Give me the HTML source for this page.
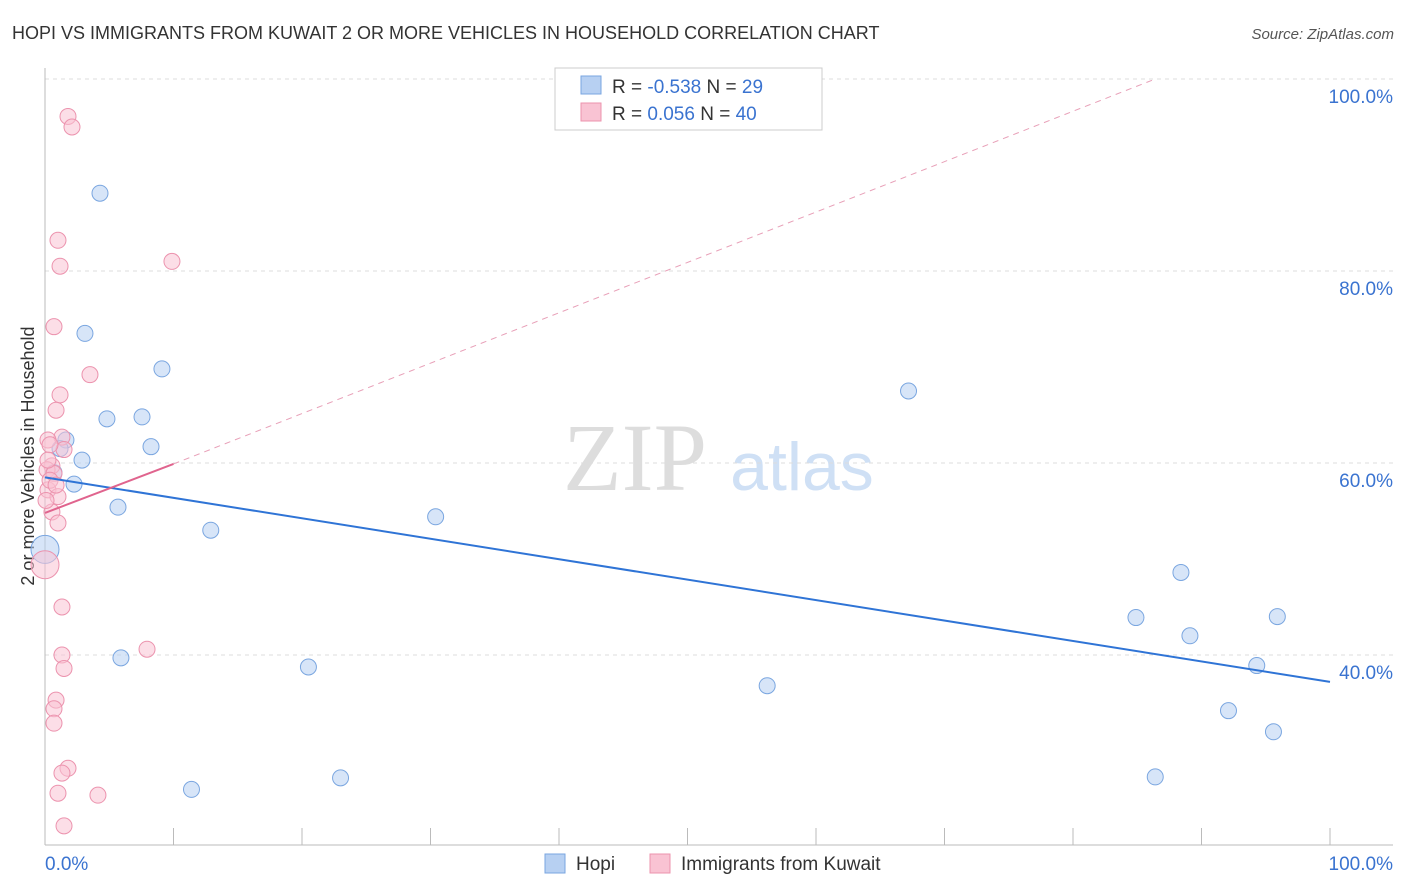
<!DOCTYPE html>
<html><head><meta charset="utf-8"><style>
body{margin:0;background:#fff;font-family:"Liberation Sans",sans-serif;}
#wrap{position:relative;width:1406px;height:892px;overflow:hidden}
</style></head><body>
<div id="wrap">
<svg id="svg" width="1406" height="892" xmlns="http://www.w3.org/2000/svg">
<text x="12" y="39" font-size="18" fill="#333">HOPI VS IMMIGRANTS FROM KUWAIT 2 OR MORE VEHICLES IN HOUSEHOLD CORRELATION CHART</text>
<text x="1394" y="39" font-size="15" fill="#555" text-anchor="end" font-style="italic">Source: ZipAtlas.com</text>
<text x="34" y="456" font-size="18" fill="#333" text-anchor="middle" transform="rotate(-90 34 456)">2 or more Vehicles in Household</text>
<text x="635" y="490" font-size="96" fill="#ddd" font-family="Liberation Serif,serif" text-anchor="middle">ZIP</text>
<text x="802" y="490" font-size="68" fill="#cfe0f5" text-anchor="middle">atlas</text>
<g id="grid"></g><g id="marks"></g>
<g>
<rect x="555" y="68" width="267" height="62" fill="#fff" stroke="#ccc"/>
<rect x="581" y="76" width="20" height="18" fill="#b7d0f2" stroke="#7aa6e0"/>
<rect x="581" y="103" width="20" height="18" fill="#f9c3d3" stroke="#ec93ae"/>
<text x="612" y="93" font-size="19" fill="#333">R = <tspan fill="#3a73d0">-0.538</tspan>   N = <tspan fill="#3a73d0">29</tspan></text>
<text x="612" y="120" font-size="19" fill="#333">R = <tspan fill="#3a73d0"> 0.056</tspan>   N = <tspan fill="#3a73d0">40</tspan></text>
</g>
<g>
<rect x="545" y="854" width="20" height="19" fill="#b7d0f2" stroke="#7aa6e0"/>
<text x="576" y="870" font-size="19" fill="#333">Hopi</text>
<rect x="650" y="854" width="20" height="19" fill="#f9c3d3" stroke="#ec93ae"/>
<text x="681" y="870" font-size="19" fill="#333">Immigrants from Kuwait</text>
</g>
</svg></div>
<script>
const yTicks=[40,60,80,100];
const xTickLabels=["0.0%","100.0%"];
const hopiX=[4.28,3.11,9.1,4.82,7.55,8.25,1.63,1.17,2.88,0.7,2.26,5.68,12.9,30.4,0,5.91,20.5,11.4,23.0,67.2,56.2,88.4,84.9,89.1,95.9,94.3,92.1,95.6,86.4];
const hopiY=[88.1,73.5,69.8,64.6,64.8,61.7,62.4,61.5,60.3,59.0,57.8,55.4,53.0,54.4,51.0,39.7,38.75,26.0,27.2,67.5,36.8,48.6,43.9,42.0,44.0,38.9,34.2,32.0,27.3];
const kuwX=[1.79,2.1,1.01,1.17,9.88,0.7,3.5,1.17,0.86,1.32,0.23,1.48,0.39,0.54,0.16,0.7,0.23,1.01,0.54,1.01,0,1.32,1.32,1.48,7.94,0.86,0.7,0.7,1.79,1.32,1.01,4.12,1.48,0.23,0.39,0.86,0.08];
const kuwY=[96.1,95.0,83.2,80.5,81.0,74.2,69.2,67.1,65.5,62.7,62.4,61.4,61.9,59.7,59.3,58.9,57.2,56.5,54.9,53.75,49.4,45.0,40.0,38.6,40.6,35.3,34.4,32.9,28.2,27.7,25.6,25.4,22.2,60.3,58.2,57.7,56.1];
const hopiTrend=[[0,58.5],[100,37.2]];
const kuwTrend=[[0,54.8],[10,59.9]];
const kuwTrendExt=[[10,59.9],[86.4,100]];
const X=v=>45+v*12.85, Y=v=>79+(100-v)*9.6;
const NS="http://www.w3.org/2000/svg";
function mk(t,a,p){const e=document.createElementNS(NS,t);for(const k in a)e.setAttribute(k,a[k]);p.appendChild(e);return e;}
const grid=document.getElementById('grid'),marks=document.getElementById('marks');
yTicks.forEach(t=>{const l=mk('line',{x1:45,x2:1393,y1:Y(t),y2:Y(t),stroke:'#ddd','stroke-dasharray':'4,4'},grid);


const tx=mk('text',{x:1393,y:Y(t)+24,'font-size':19,fill:'#3a73d0','text-anchor':'end'},grid);tx.textContent=t.toFixed(1)+'%';

});
const ax=mk('line',{x1:45,x2:45,y1:68,y2:845,stroke:'#bbb'},grid);


const bx=mk('line',{x1:45,x2:1393,y1:845,y2:845,stroke:'#bbb'},grid);


for(let i=0;i<=10;i++){const t=mk('line',{x1:X(i*10),x2:X(i*10),y1:828,y2:845,stroke:'#bbb'},grid);

}
const l0=mk('text',{x:45,y:870,'font-size':19,fill:'#3a73d0'},grid);l0.textContent=xTickLabels[0];


const l1=mk('text',{x:1393,y:870,'font-size':19,fill:'#3a73d0','text-anchor':'end'},grid);l1.textContent=xTickLabels[1];


function dots(xs,ys,fill,stroke,name,bigIdx){xs.forEach((x,i)=>{const c=mk('circle',{cx:X(x),cy:Y(ys[i]),r:i===bigIdx?14:8,fill:fill,'fill-opacity':0.55,stroke:stroke,'stroke-width':1},marks);

});}
dots(hopiX,hopiY,'#b7d0f2','#7aa6e0','hopi-point',14);
dots(kuwX,kuwY,'#f9c3d3','#ec93ae','kuwait-point',20);
function line(p,st,w,dash,name){const l=mk('line',{x1:X(p[0][0]),y1:Y(p[0][1]),x2:X(p[1][0]),y2:Y(p[1][1]),stroke:st,'stroke-width':w},marks);if(dash)l.setAttribute('stroke-dasharray',dash);

}
line(hopiTrend,'#2f74d6',2,null,'hopi-trend-line');
line(kuwTrend,'#e0648e',2,null,'kuwait-trend-line');
line(kuwTrendExt,'#e8a0b8',1,'6,5','kuwait-trend-extension');
</script>
</body></html>
